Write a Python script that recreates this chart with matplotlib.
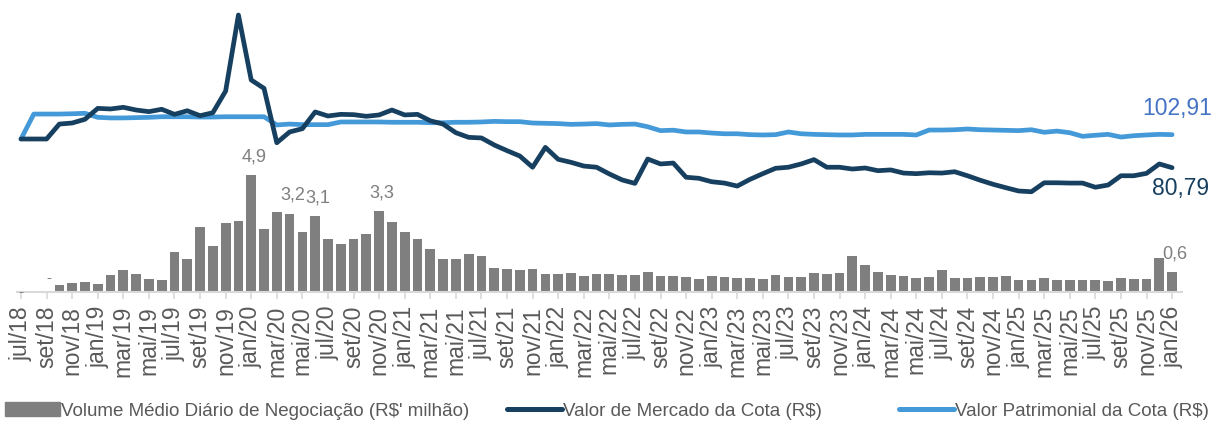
import matplotlib
matplotlib.use("Agg")
import matplotlib.pyplot as plt
from matplotlib.patches import Patch
from matplotlib.lines import Line2D

plt.rcParams['font.family'] = ['Liberation Sans', 'DejaVu Sans']

# month labels jul/18 .. jan/26
pt_months = ["jan", "fev", "mar", "abr", "mai", "jun", "jul", "ago", "set", "out", "nov", "dez"]
months = []
for k in range(91):
    m = (6 + k) % 12
    yy = 18 + (6 + k) // 12
    months.append(f"{pt_months[m]}/{yy:02d}")

# Volume medio diario de negociacao (R$' milhao)
volume = [0, 0, 0, 0.05, 0.12, 0.18, 0.09, 0.49, 0.72, 0.53, 0.32, 0.28,
          1.49, 1.18, 2.61, 1.76, 2.77, 2.88, 4.9, 2.51, 3.26, 3.2, 2.38, 3.1,
          2.09, 1.87, 2.08, 2.30, 3.3, 2.83, 2.40, 2.07, 1.62, 1.21, 1.19, 1.42,
          1.33, 0.80, 0.75, 0.71, 0.74, 0.53, 0.52, 0.58, 0.46, 0.53, 0.52, 0.50,
          0.48, 0.62, 0.43, 0.44, 0.40, 0.31, 0.44, 0.41, 0.37, 0.37, 0.31, 0.47,
          0.41, 0.38, 0.56, 0.53, 0.58, 1.34, 0.93, 0.61, 0.47, 0.44, 0.34, 0.41,
          0.71, 0.35, 0.35, 0.40, 0.40, 0.43, 0.25, 0.28, 0.37, 0.27, 0.27, 0.25,
          0.25, 0.21, 0.34, 0.32, 0.30, 1.25, 0.6]

# Valor de mercado da cota (R$)
mercado = [100, 100, 100, 110, 110.7, 113.2, 120.5, 120.1, 121.2, 119.4, 118.3, 119.9,
           116.5, 118.9, 115.6, 117.6, 132.1, 183, 139.5, 133.9, 97.5, 104.7, 106.9, 118.1,
           115.4, 116.5, 116.3, 115.2, 116.1, 119.4, 116.1, 116.5, 112.2, 110, 104.2, 101.1,
           100.7, 96, 92.2, 88.6, 81.1, 94.4, 86.4, 84.4, 81.9, 81.1, 76.6, 72.6,
           70.3, 86.6, 83.3, 83.9, 74.4, 73.7, 71.4, 70.5, 68.5, 73, 76.8, 80.4,
           81.1, 83.3, 86.2, 81.1, 81.1, 79.9, 80.6, 78.8, 79.3, 77.2, 76.8, 77.4,
           77.2, 78.1, 75.4, 72.4, 69.7, 67.4, 65.2, 64.7, 70.7, 70.7, 70.5, 70.5,
           67.7, 69.2, 75.4, 75.4, 77, 83.3, 80.79]

# Valor patrimonial da cota (R$)
patrimonial = [100, 116.7, 116.7, 116.7, 116.9, 117.2, 114.5, 114.1, 114.1, 114.3, 114.5, 114.9,
               114.9, 114.9, 114.7, 114.7, 114.9, 114.9, 114.9, 114.9, 109.4, 110, 109.6, 109.6,
               109.6, 111.4, 111.4, 111.4, 111.4, 111.2, 111.2, 111.2, 110.9, 110.9, 111.2, 111.2,
               111.4, 111.8, 111.6, 111.6, 110.7, 110.5, 110.3, 109.8, 110, 110.3, 109.4, 109.8,
               110, 108.2, 105.6, 105.9, 104.7, 104.7, 104, 103.5, 103.5, 102.9, 102.7, 102.9,
               104.7, 103.5, 103.1, 102.9, 102.7, 102.7, 103.1, 103.1, 103.1, 103.1, 102.7, 106,
               106, 106.2, 106.7, 106.2, 106, 105.8, 105.6, 106.2, 104.5, 105.3, 104.2, 101.8,
               102.5, 103.1, 101.3, 102.2, 102.7, 103.1, 102.91]

# months that carry a value label on the bars
labeled_bars = [18, 21, 23, 28, 90]

BAR_COLOR = "#7f7f7f"
MKT_COLOR = "#173f5f"
NAV_COLOR = "#4499d8"
GRID_GRAY = "#d9d9d9"
TEXT_GRAY = "#595959"

W, H = 1213, 424
fig = plt.figure(figsize=(W / 100, H / 100), dpi=100)

x = list(range(len(months)))
x0, x1 = -0.3, 90.8
left_px = 21 + x0 * 12.79
right_px = 21 + x1 * 12.79
top_px, base_px = 5, 292
ax = fig.add_axes([left_px / W, (H - base_px) / H, (right_px - left_px) / W, (base_px - top_px) / H])

# bars start from the bottom of the value axis, as in the original chart
ymin = -0.265
ymax = ymin + (base_px - top_px) / 22.6
heights = [(v - ymin) if v > 0 else 0 for v in volume]
ax.bar(x, heights, bottom=ymin, width=0.76, color=BAR_COLOR, zorder=2)
ax.set_ylim(ymin, ymax)
ax.set_xlim(x0, x1)

for i in labeled_bars:
    ax.annotate(f"{volume[i]:.1f}".replace(".", ","), (x[i], volume[i]),
                xytext=(2, 7), textcoords="offset points", ha="center", va="bottom",
                fontsize=13, color=BAR_COLOR)
ax.annotate("-", (x[0], ymin), xytext=(0, 0), textcoords="offset points",
            ha="center", va="center", fontsize=11, color=BAR_COLOR)
ax.annotate("-", (x[2], volume[2]), xytext=(2, 6), textcoords="offset points",
            ha="center", va="center", fontsize=11, color=BAR_COLOR)

ax.set_xticks(x[::2])
ax.set_xticklabels(months[::2], rotation=90)
ax.tick_params(axis="x", length=5, width=1.2, color=GRID_GRAY, labelcolor=TEXT_GRAY,
               labelsize=16.5, pad=5)
ax.set_yticks([])
for s in ["left", "right", "top"]:
    ax.spines[s].set_visible(False)
ax.spines["bottom"].set_color(GRID_GRAY)
ax.spines["bottom"].set_linewidth(1.5)

ax2 = ax.twinx()
ax2.plot(x, patrimonial, color=NAV_COLOR, lw=3.4, solid_capstyle="round", zorder=3)
ax2.plot(x, mercado, color=MKT_COLOR, lw=3.4, solid_capstyle="round", zorder=4)
ax2.set_ylim(100 - (base_px - 139) / 1.494, 100 + (139 - top_px) / 1.494)
ax2.set_yticks([])
for s in ax2.spines.values():
    s.set_visible(False)

ax2.annotate(f"{patrimonial[-1]:.2f}".replace(".", ","), (x[-1], patrimonial[-1]),
             xytext=(4, 19), textcoords="offset points", ha="center", va="center",
             fontsize=16.5, color="#4472c4")
ax2.annotate(f"{mercado[-1]:.2f}".replace(".", ","), (x[-1], mercado[-1]),
             xytext=(6, -15), textcoords="offset points", ha="center", va="center",
             fontsize=16.5, color=MKT_COLOR)

# legend: one entry per block, placed like the original
names = ["Volume Médio Diário de Negociação (R$' milhão)",
         "Valor de Mercado da Cota (R$)",
         "Valor Patrimonial da Cota (R$)"]
handles = [Patch(color=BAR_COLOR),
           Line2D([], [], color=MKT_COLOR, lw=3.6, solid_capstyle="round"),
           Line2D([], [], color=NAV_COLOR, lw=3.6, solid_capstyle="round")]
starts = [5, 507, 899]
for h, n, s in zip(handles, names, starts):
    fig.legend([h], [n], loc="center left", bbox_to_anchor=(s / W, 13 / H),
               frameon=False, fontsize=13.5, handlelength=2.95, handleheight=0.75,
               handletextpad=0.05, borderaxespad=0, borderpad=0,
               labelcolor=TEXT_GRAY)

fig.savefig("out.png", dpi=100)
